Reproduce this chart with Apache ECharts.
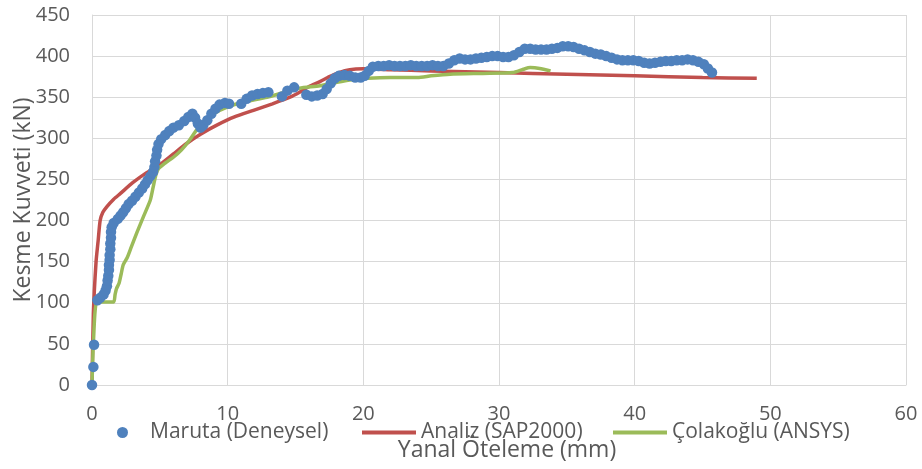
<!DOCTYPE html>
<html>
<head>
<meta charset="utf-8">
<script src="https://cdn.jsdelivr.net/npm/echarts@6/dist/echarts.min.js"></script>
<style>
  html, body { margin: 0; padding: 0; background: #fff; }
  #chart { width: 922px; height: 469px; }
</style>
</head>
<body>
<div id="chart"></div>
<script>
// Maruta (Deneysel) - deney noktaları
const marutaX = [0, 0.1, 0.15, 0.4, 0.6, 0.85, 1.0, 1.1, 1.15, 1.2, 1.25, 1.25, 1.3, 1.3, 1.35, 1.35, 1.4, 1.4, 1.45, 1.6,
  1.9, 2.1, 2.3, 2.5, 2.7, 2.95, 3.2, 3.45, 3.7, 3.9, 4.1, 4.3, 4.5, 4.6, 4.65, 4.75, 4.8, 4.9, 5.1, 5.4,
  5.7, 6.0, 6.4, 6.8, 7.1, 7.4, 7.6, 7.8, 8.0, 8.2, 8.5, 8.8, 9.1, 9.4, 9.8, 10.1, 11.0, 11.4, 11.8, 12.2,
  12.6, 13.0, 14.0, 14.4, 14.9, 15.8, 16.2, 16.6, 17.0, 17.3, 17.6, 17.9, 18.2, 18.6, 19.0, 19.4, 19.8, 20.1, 20.4, 20.7,
  21.1, 21.5, 21.9, 22.3, 22.7, 23.1, 23.5, 23.9, 24.3, 24.7, 25.1, 25.5, 25.9, 26.3, 26.7, 27.1, 27.5, 27.9, 28.3, 28.7,
  29.1, 29.5, 29.9, 30.3, 30.7, 31.1, 31.5, 31.9, 32.3, 32.7, 33.1, 33.5, 33.9, 34.3, 34.7, 35.1, 35.5, 35.9, 36.3, 36.7,
  37.1, 37.5, 37.9, 38.3, 38.7, 39.1, 39.5, 39.9, 40.3, 40.7, 41.1, 41.5, 41.9, 42.3, 42.7, 43.1, 43.5, 43.9, 44.3, 44.7,
  45.1, 45.4, 45.7];
const marutaY = [0, 22, 49, 103, 106, 110, 115, 120, 127, 133, 140, 146, 152, 158, 165, 172, 179, 186, 192, 197,
  202, 206, 210, 215, 220, 224, 229, 234, 239, 244, 249, 254, 259, 265, 272, 279, 286, 293, 299, 304,
  309, 313, 316, 321, 326, 330, 325, 318, 313, 316, 322, 330, 336, 341, 343, 342, 342, 348, 352, 354,
  355, 356, 351, 358, 362, 353, 351, 352, 354, 360, 367, 373, 376, 377, 376, 374, 374, 376, 382, 387,
  388, 388, 389, 388, 388, 388, 389, 388, 388, 388, 389, 388, 388, 391, 395, 397, 396, 396, 397, 398,
  399, 400, 400, 399, 399, 401, 405, 409, 409, 408, 408, 408, 409, 410, 412, 412, 411, 409, 407, 405,
  403, 402, 400, 398, 396, 395, 395, 395, 394, 392, 391, 392, 393, 394, 394, 395, 395, 396, 395, 393,
  390, 385, 380];

// Analiz (SAP2000)
const analizX = [0, 0.1, 0.3, 0.45, 0.6, 0.8, 1.1, 1.6, 2.1, 3.0, 4.0, 5.0, 6.0, 7.0, 8.0, 9.2, 10.5, 11.9, 13.3, 14.6,
  15.3, 16.0, 16.8, 17.5, 18.2, 19.0, 20.0, 22.0, 25.0, 30.0, 35.0, 40.0, 45.0, 49.0];
const analizY = [0, 87, 150, 175, 200, 210, 217, 226, 233, 246, 258, 268, 281, 294, 305, 316, 326, 334, 342, 350,
  356, 363, 369, 375, 380, 383.5, 384.5, 383.5, 382, 380, 378, 376, 374, 373];

// Çolakoğlu (ANSYS)
const ansysX = [0, 0.1, 0.35, 1.0, 1.6, 1.7, 1.8, 2.0, 2.15, 2.3, 2.6, 2.9, 3.3, 3.8, 4.3, 4.5, 4.7, 4.9, 5.4, 6.0,
  6.6, 7.2, 7.7, 8.3, 9.4, 10.9, 12.9, 14.4, 15.3, 16.8, 18.0, 19.0, 20.3, 22.0, 24.0, 25.0, 26.4, 28.8, 31.0, 31.8,
  32.3, 33.0, 33.8];
const ansysY = [0, 50, 101, 101, 101, 110, 117, 124, 135, 146, 155, 168, 185, 205, 225, 240, 255, 263, 270, 277,
  286, 298, 310, 321, 334, 343, 350, 357, 361, 364, 368, 371, 373, 374, 374, 376, 378, 379, 380, 384,
  386, 385, 382];

const xTicks = { min: 0, max: 60, interval: 10 };
const yTicks = { min: 0, max: 450, interval: 50 };

const zip = (xs, ys) => xs.map((x, i) => [x, ys[i]]);

const textColor = '#595959';
const gridColor = '#d9d9d9';
const fontFamily = '"Open Sans", "Noto Sans", sans-serif';
const blue = '#4F81BD', red = '#C0504D', green = '#9BBB59';

const chart = echarts.init(document.getElementById('chart'));

const legendText = { color: textColor, fontSize: 21, fontFamily };

chart.setOption({
  animation: false,
  backgroundColor: '#fff',
  grid: { left: 92, right: 16, top: 15, bottom: 84, containLabel: false, outerBoundsMode: 'none' },
  legend: [
    {
      left: 112, top: 417, itemWidth: 11, itemHeight: 11,
      data: [{ name: 'Maruta (Deneysel)', icon: 'circle' }],
      textStyle: Object.assign({ padding: [0, 0, 0, 17] }, legendText)
    },
    {
      left: 357, top: 417, itemWidth: 54, itemHeight: 4,
      data: [{ name: 'Analiz (SAP2000)', icon: 'rect' }],
      textStyle: legendText
    },
    {
      left: 608, top: 417, itemWidth: 54, itemHeight: 4,
      data: [{ name: 'Çolakoğlu (ANSYS)', icon: 'rect' }],
      textStyle: legendText
    }
  ],
  xAxis: {
    type: 'value',
    min: xTicks.min,
    max: xTicks.max,
    interval: xTicks.interval,
    name: 'Yanal Öteleme (mm)',
    nameLocation: 'middle',
    nameGap: 54,
    nameMoveOverlap: false,
    nameTextStyle: { color: textColor, fontSize: 23, fontFamily, padding: [0, 0, 0, 16] },
    axisLine: { show: true, lineStyle: { color: gridColor } },
    axisTick: { show: false },
    axisLabel: { color: textColor, fontSize: 20, fontFamily, margin: 19 },
    splitLine: { show: true, lineStyle: { color: gridColor, width: 1 } }
  },
  yAxis: {
    type: 'value',
    min: yTicks.min,
    max: yTicks.max,
    interval: yTicks.interval,
    name: 'Kesme Kuvveti (kN)',
    nameLocation: 'middle',
    nameGap: 57,
    nameMoveOverlap: false,
    nameTextStyle: { color: textColor, fontSize: 23, fontFamily },
    axisLine: { show: true, lineStyle: { color: gridColor } },
    axisTick: { show: false },
    axisLabel: { color: textColor, fontSize: 20, fontFamily, margin: 22 },
    splitLine: { show: true, lineStyle: { color: gridColor, width: 1 } }
  },
  series: [
    {
      name: 'Maruta (Deneysel)',
      type: 'scatter',
      data: zip(marutaX, marutaY),
      symbol: 'circle',
      symbolSize: 10.5,
      itemStyle: { color: blue, opacity: 1 },
      z: 5
    },
    {
      name: 'Analiz (SAP2000)',
      type: 'line',
      data: zip(analizX, analizY),
      showSymbol: false,
      symbol: 'none',
      smooth: 0.2,
      lineStyle: { color: red, width: 3.5 },
      itemStyle: { color: red },
      z: 3
    },
    {
      name: 'Çolakoğlu (ANSYS)',
      type: 'line',
      data: zip(ansysX, ansysY),
      showSymbol: false,
      symbol: 'none',
      smooth: 0.2,
      lineStyle: { color: green, width: 3.5 },
      itemStyle: { color: green },
      z: 4
    }
  ]
});
</script>
</body>
</html>
